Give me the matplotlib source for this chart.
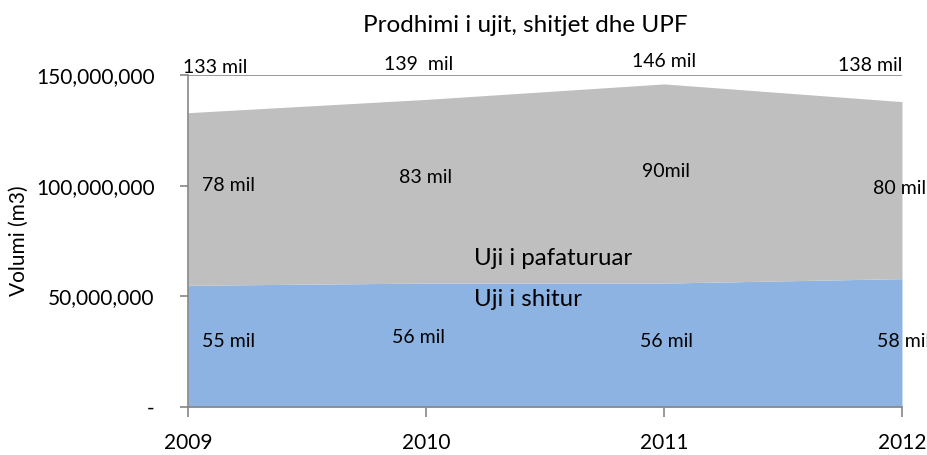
import numpy as np
import matplotlib
matplotlib.use("Agg")
import matplotlib.pyplot as plt
from matplotlib.ticker import FuncFormatter

# te dhenat (m3)
vitet = [2009, 2010, 2011, 2012]
uji_shitur = [55e6, 56e6, 56e6, 58e6]
uji_pafaturuar = [78e6, 83e6, 90e6, 80e6]
prodhimi = [133e6, 139e6, 146e6, 138e6]

etiketa_prodhimi = ["133 mil", "139  mil", "146 mil", "138 mil"]
etiketa_pafaturuar = ["78 mil", "83 mil", "90mil", "80 mil"]
etiketa_shitur = ["55 mil", "56 mil", "56 mil", "58 mil"]
yticks = [0, 50e6, 100e6, 150e6]

plt.rcParams['font.family'] = ['Lato', 'DejaVu Sans']

fig = plt.figure(figsize=(9.27, 4.55), dpi=100)
ax = fig.add_axes([0.2028, 0.1055, 0.7702, 0.7295])

x = np.array(vitet)
shitur = np.array(uji_shitur)
ax.fill_between(x, 0, shitur, color='#8db3e2', linewidth=0, zorder=2)
ax.fill_between(x, shitur, shitur + np.array(uji_pafaturuar),
                color='#bfbfbf', linewidth=0, zorder=2)

ax.set_xlim(2009, 2012)
ax.set_ylim(0, 150e6)
ax.set_xticks(vitet)
ax.set_yticks(yticks)
ax.yaxis.set_major_formatter(FuncFormatter(lambda v, p: '-' if v == 0 else f'{v:,.0f}'))
ax.grid(axis='y', color='#868686', linewidth=1.2, zorder=1)
ax.set_axisbelow(True)

for s in ['top', 'right']:
    ax.spines[s].set_visible(False)
for s in ['left', 'bottom']:
    ax.spines[s].set_color('#868686')
    ax.spines[s].set_linewidth(1.2)
    ax.spines[s].set_zorder(3)

ax.tick_params(axis='y', length=6, width=1.2, color='#868686', pad=18, labelsize=15)
ax.tick_params(axis='x', length=7, width=1.2, color='#868686', pad=12, labelsize=15)
ax.set_ylabel('Volumi (m3)', fontsize=15, labelpad=5)

# etiketat e vlerave (pozicioni i tekstit: zhvendosje ne x dhe lartesia)
dx_top = [-0.02, -0.03, 0.0, 0.0]
ha_top = ['left', 'center', 'center', 'right']
y_top = [153.6e6, 155e6, 156.3e6, 154.5e6]
for xi, lab, d, h, yy in zip(vitet, etiketa_prodhimi, dx_top, ha_top, y_top):
    ax.text(xi + d, yy, lab, ha=h, va='center', fontsize=14, clip_on=False, zorder=5)

dx_mid = [0.06, 0.0, 0.01, -0.12]
ha_mid = ['left', 'center', 'center', 'left']
y_mid = [100.3e6, 103.5e6, 106.2e6, 98.9e6]
for xi, lab, d, h, yy in zip(vitet, etiketa_pafaturuar, dx_mid, ha_mid, y_mid):
    ax.text(xi + d, yy, lab, ha=h, va='center', fontsize=14, clip_on=False, zorder=5)

dx_low = [0.06, -0.03, 0.01, -0.105]
ha_low = ['left', 'center', 'center', 'left']
y_low = [29.8e6, 31.6e6, 29.4e6, 29.8e6]
for xi, lab, d, h, yy in zip(vitet, etiketa_shitur, dx_low, ha_low, y_low):
    ax.text(xi + d, yy, lab, ha=h, va='center', fontsize=14, clip_on=False, zorder=5)

ax.text(2010.2, 67.3e6, 'Uji i pafaturuar', ha='left', va='center', fontsize=17.3, zorder=5)
ax.text(2010.2, 48.8e6, 'Uji i shitur', ha='left', va='center', fontsize=17.3, zorder=5)

fig.text(0.567, 0.945, 'Prodhimi i ujit, shitjet dhe UPF', ha='center', va='center', fontsize=17.5)

fig.savefig('out.png', dpi=100)
